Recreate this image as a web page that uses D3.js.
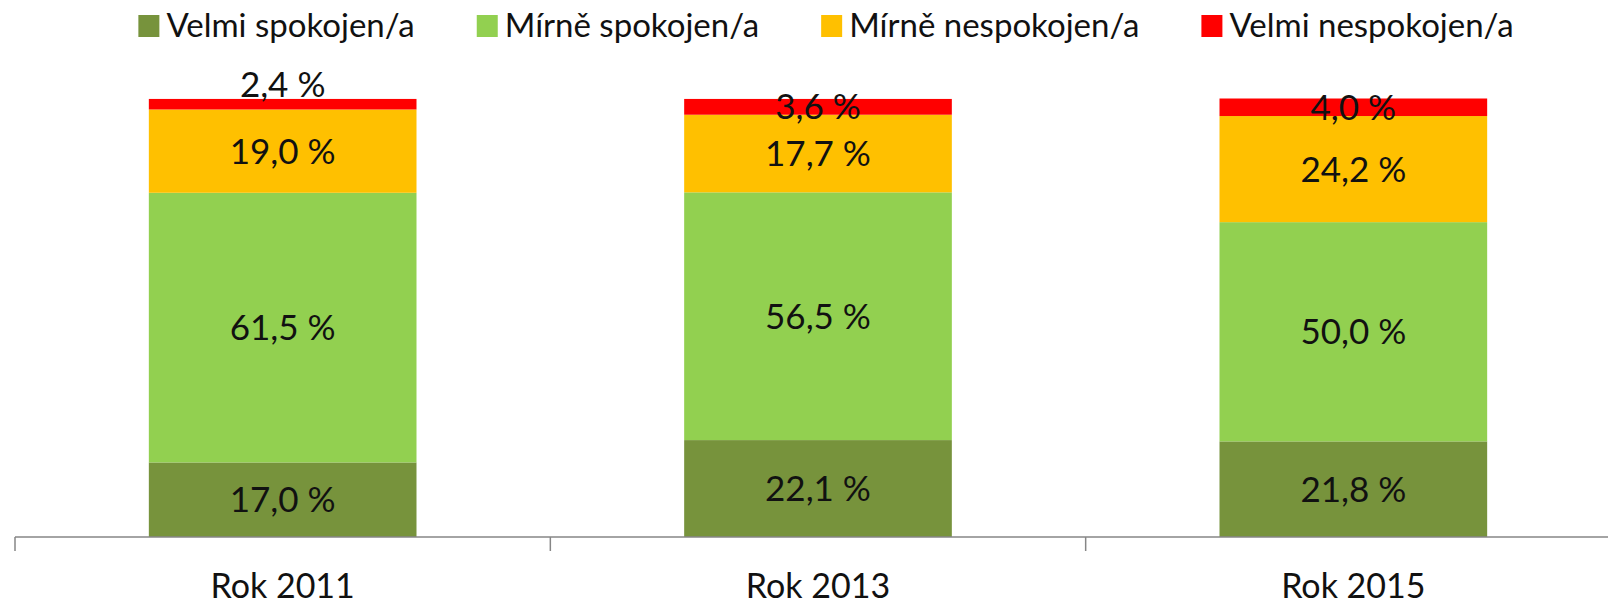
<!DOCTYPE html>
<html>
<head>
<meta charset="utf-8">
<script src="https://cdn.jsdelivr.net/npm/d3@7"></script>
<style>
  body { margin: 0; background: #fff; }
  text { font-family: Lato, "Noto Sans", sans-serif; fill: #111; }
</style>
</head>
<body>
<script>
var width = 1608,
    height = 600;

// data
var categories = ["Rok 2011", "Rok 2013", "Rok 2015"];
var seriesNames = ["Velmi spokojen/a", "Mírně spokojen/a", "Mírně nespokojen/a", "Velmi nespokojen/a"];
var seriesColors = ["#77933C", "#92D050", "#FFC000", "#FF0000"];
var velmiSpokojen = [17.0, 22.1, 21.8];
var mirneSpokojen = [61.5, 56.5, 50.0];
var mirneNespokojen = [19.0, 17.7, 24.2];
var velmiNespokojen = [2.4, 3.6, 4.0];

var rows = categories.map(function(c, i) {
    var r = { cat: c };
    r[seriesNames[0]] = velmiSpokojen[i];
    r[seriesNames[1]] = mirneSpokojen[i];
    r[seriesNames[2]] = mirneNespokojen[i];
    r[seriesNames[3]] = velmiNespokojen[i];
    return r;
});

var svg = d3.select("body").append("svg")
    .attr("width", width)
    .attr("height", height);

var x = d3.scaleBand()
    .domain(categories)
    .range([15, 1621])
    .paddingInner(0.5)
    .paddingOuter(0.25);

var y = d3.scaleLinear()
    .domain([0, 100])
    .range([537, 98.5]);

var color = d3.scaleOrdinal().domain(seriesNames).range(seriesColors);

var stacked = d3.stack().keys(seriesNames)(rows);

var fmt = function(v) { return d3.format(".1f")(v).replace(".", ",") + " %"; };

var layers = svg.append("g").selectAll("g")
    .data(stacked)
    .enter().append("g")
    .attr("fill", function(d) { return color(d.key); });

layers.selectAll("rect")
    .data(function(d) { return d; })
    .enter().append("rect")
    .attr("x", function(d) { return x(d.data.cat); })
    .attr("width", x.bandwidth())
    .attr("y", function(d) { return y(d[1]); })
    .attr("height", function(d) { return y(d[0]) - y(d[1]); });

// data labels
layers.selectAll("text")
    .data(function(d) { return d; })
    .enter().append("text")
    .attr("text-anchor", "middle")
    .attr("font-size", 35)
    .attr("x", function(d) { return x(d.data.cat) + x.bandwidth() / 2; })
    .attr("y", function(d) {
        var v = d[1] - d[0];
        // small slice on 2011 sits above the bar
        if (v < 3) return y(d[1]) - 2;
        return (y(d[0]) + y(d[1])) / 2;
    })
    .attr("dy", function(d) { return (d[1] - d[0]) < 3 ? "0" : "0.36em"; })
    .text(function(d) { return fmt(d[1] - d[0]); });

// x axis: line with ticks at category borders
var axisY = y(0);
var step = x.step();
var edges = d3.range(categories.length + 1).map(function(i) { return x.range()[0] + i * step; });
svg.append("line")
    .attr("x1", edges[0]).attr("x2", edges[edges.length - 1])
    .attr("y1", axisY).attr("y2", axisY)
    .attr("stroke", "#868686").attr("stroke-width", 1.5);
svg.selectAll(".tick")
    .data(edges)
    .enter().append("line")
    .attr("class", "tick")
    .attr("x1", function(d) { return d; }).attr("x2", function(d) { return d; })
    .attr("y1", axisY).attr("y2", axisY + 14)
    .attr("stroke", "#868686").attr("stroke-width", 1.5);

svg.selectAll(".cat")
    .data(categories)
    .enter().append("text")
    .attr("class", "cat")
    .attr("text-anchor", "middle")
    .attr("font-size", 34)
    .attr("x", function(d) { return x(d) + x.bandwidth() / 2; })
    .attr("y", 598)
    .text(function(d) { return d; });

// legend
var legend = svg.append("g");
var items = legend.selectAll("g")
    .data(seriesNames)
    .enter().append("g");
items.append("rect")
    .attr("y", 15)
    .attr("width", 21)
    .attr("height", 22)
    .attr("fill", function(d) { return color(d); });
items.append("text")
    .attr("x", 28)
    .attr("y", 37)
    .attr("font-size", 33)
    .text(function(d) { return d; });

var pos = 0, gap = 62;
items.each(function() {
    var w = 28 + this.querySelector("text").getComputedTextLength();
    d3.select(this).attr("transform", "translate(" + pos + ",0)");
    pos += w + gap;
});
var total = pos - gap;
legend.attr("transform", "translate(" + (826 - total / 2) + ",0)");
</script>
</body>
</html>
